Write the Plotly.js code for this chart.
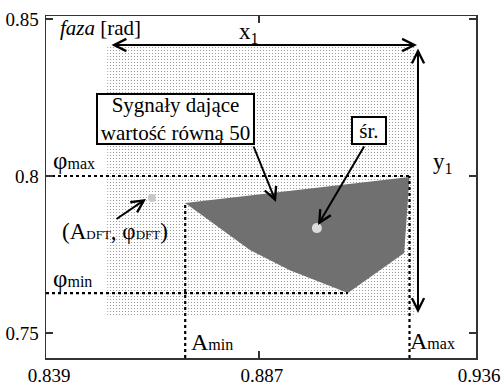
<!DOCTYPE html>
<html>
<head>
<meta charset="utf-8">
<script src="https://cdn.plot.ly/plotly-3.0.1.min.js"></script>
<style>html,body{margin:0;padding:0;background:#fff;}#chart{width:502px;height:383px;}</style>
</head>
<body>
<div id="chart"></div>
<script>
// ---- data ----
const xTicks = [0.839, 0.887, 0.936];
const xTickText = ['0.839', '0.887', '0.936'];
const yTicks = [0.75, 0.8, 0.85];
const yTickText = ['0.75', '0.8', '0.85'];

// region covered by the scattered (noisy) signals
const noiseA = [0.8528, 0.9225, 0.9225, 0.8528, 0.8528];
const noisePhi = [0.8411, 0.8411, 0.7551, 0.7551, 0.8411];

// region of signals giving value 50
const regionA = [0.8704, 0.9210, 0.9198, 0.9071, 0.8940, 0.8850, 0.8704];
const regionPhi = [0.7914, 0.7997, 0.7755, 0.7627, 0.7700, 0.7764, 0.7914];

// limits
const Amin = 0.8704, Amax = 0.9210;
const phiMin = 0.7627, phiMax = 0.8000;

// points
const dftA = [0.8629], dftPhi = [0.7930];
const meanA = [0.9001], meanPhi = [0.7834];

// ---- layout helpers ----
const xr = [0.839, 0.936], yr = [0.742, 0.851];
const W = 502, H = 383, M = {l: 46, r: 26, t: 16, b: 25};
const X = p => xr[0] + (p - M.l) / (W - M.l - M.r) * (xr[1] - xr[0]);
const Y = p => yr[1] - (p - M.t) / (H - M.t - M.b) * (yr[1] - yr[0]);

const FONT = '"Liberation Serif", "Times New Roman", serif';
const dotLine = {color: 'black', width: 2.2, dash: 'dot'};

const traces = [
  {x: noiseA, y: noisePhi, mode: 'lines', fill: 'toself', line: {width: 0},
   fillcolor: 'white',
   fillpattern: {shape: '.', size: 3, solidity: 0.13, fgcolor: '#8c8c8c', bgcolor: 'white'},
   hoverinfo: 'skip'},
  {x: regionA, y: regionPhi, mode: 'lines', fill: 'toself', line: {width: 0},
   fillcolor: '#707070', hoverinfo: 'skip'},
  {x: [xr[0], Amax], y: [phiMax, phiMax], mode: 'lines', line: dotLine},
  {x: [xr[0], regionA[3]], y: [phiMin, phiMin], mode: 'lines', line: dotLine},
  {x: [Amin, Amin], y: [yr[0], regionPhi[0]], mode: 'lines', line: dotLine},
  {x: [Amax, Amax], y: [yr[0], phiMax], mode: 'lines', line: dotLine},
  {x: dftA, y: dftPhi, mode: 'markers', marker: {size: 8, color: '#c8c8c8'}},
  {x: meanA, y: meanPhi, mode: 'markers', marker: {size: 10, color: '#dcdcdc'}}
];

function arrow(hx, hy, tx, ty, both) {
  return {x: X(hx), y: Y(hy), ax: X(tx), ay: Y(ty), xref: 'x', yref: 'y', axref: 'x', ayref: 'y',
    text: '', showarrow: true, arrowhead: 5, startarrowhead: 5, arrowsize: 1.2, startarrowsize: 1.2,
    arrowwidth: 2, arrowcolor: 'black', arrowside: both ? 'end+start' : 'end'};
}
function label(px, py, text, size, anchor) {
  return {x: X(px), y: Y(py), xref: 'x', yref: 'y', text: text, showarrow: false,
    xanchor: anchor || 'center', yanchor: 'middle', font: {family: FONT, size: size, color: 'black'}};
}

const annotations = [
  arrow(417, 45, 110, 45, true),
  arrow(418, 313, 418, 47, true),
  arrow(276, 202, 253, 145, false),
  arrow(318, 225, 365, 145, false),
  arrow(146, 199, 115, 220, false),
  Object.assign(label(175.5, 119, 'Sygnały dające<br>wartość równą 50', 21),
    {bordercolor: 'black', borderwidth: 2, bgcolor: 'white', width: 155, height: 48, borderpad: 0}),
  Object.assign(label(369, 130.5, 'śr.', 21),
    {bordercolor: 'black', borderwidth: 2, bgcolor: 'white', width: 32, height: 25, borderpad: 0}),
  label(58, 28, '<i>faza</i> [rad]', 21, 'left'),
  label(330, 373, '<i>amplituda</i> [V]', 21, 'left'),
  label(237, 33, 'x<sub>1</sub>', 23, 'left'),
  label(431, 163, 'y<sub>1</sub>', 23, 'left'),
  label(51, 160, 'φ<span style="font-size:16px">max</span>', 25, 'left'),
  label(51, 278, 'φ<span style="font-size:16px">min</span>', 25, 'left'),
  label(189, 342, 'A<span style="font-size:16px">min</span>', 24, 'left'),
  label(408, 341, 'A<span style="font-size:16px">max</span>', 24, 'left'),
  label(115, 231, '(A<span style="font-size:13px">DFT</span>, φ<span style="font-size:13px">DFT</span>)', 23, 'center')
];

const axisCommon = {
  showgrid: false, zeroline: false, showline: true, mirror: 'ticks',
  linecolor: '#333', linewidth: 1.5, ticks: 'inside', ticklen: 7, tickwidth: 1.5, tickcolor: '#333',
  tickfont: {family: FONT, size: 19, color: 'black'}, fixedrange: true
};

const layout = {
  width: W, height: H, margin: M, showlegend: false,
  paper_bgcolor: 'white', plot_bgcolor: 'white',
  font: {family: FONT},
  xaxis: Object.assign({}, axisCommon, {range: xr, tickvals: xTicks, ticktext: xTickText,
    ticklabelstandoff: 0, ticklabelshift: 3}),
  yaxis: Object.assign({}, axisCommon, {range: yr, tickvals: yTicks, ticktext: yTickText,
    ticklabelstandoff: 2}),
  annotations: annotations
};

Plotly.newPlot('chart', traces, layout, {staticPlot: true, displayModeBar: false});
</script>
</body>
</html>
